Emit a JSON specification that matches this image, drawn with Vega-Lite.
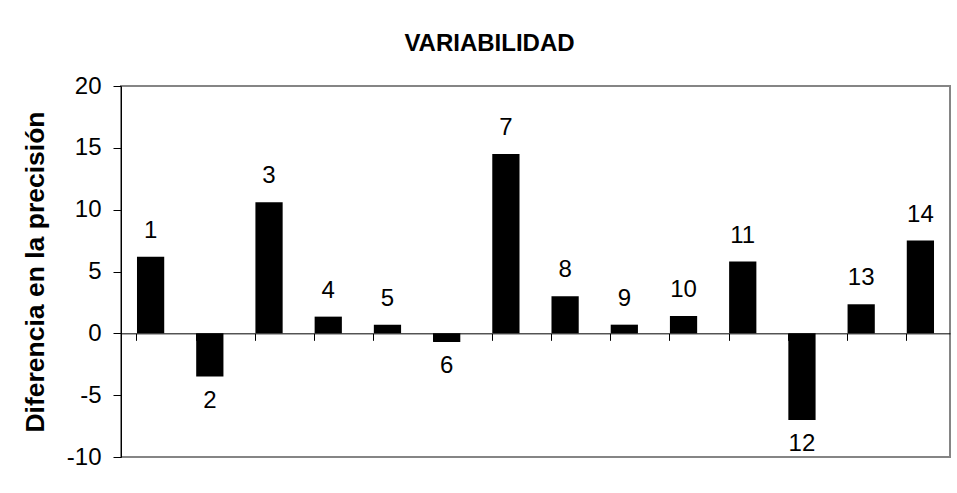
{
  "$schema": "https://vega.github.io/schema/vega-lite/v6.json",
  "width": 829,
  "height": 371,
  "autosize": {"type": "none"},
  "padding": {"left": 121, "top": 86, "right": 7, "bottom": 36},
  "background": "white",
  "config": {
    "view": {"stroke": "#858585", "strokeWidth": 2},
    "font": "Liberation Sans"
  },
  "title": {
    "text": "VARIABILIDAD",
    "font": "Liberation Sans",
    "fontWeight": "bold",
    "fontSize": 24,
    "color": "black",
    "anchor": "middle",
    "dx": -46,
    "offset": 18
  },
  "data": {
    "values": [
      {"n": 1, "v": 6.2},
      {"n": 2, "v": -3.5},
      {"n": 3, "v": 10.6},
      {"n": 4, "v": 1.35},
      {"n": 5, "v": 0.7},
      {"n": 6, "v": -0.7},
      {"n": 7, "v": 14.5},
      {"n": 8, "v": 3.0},
      {"n": 9, "v": 0.7},
      {"n": 10, "v": 1.4},
      {"n": 11, "v": 5.8},
      {"n": 12, "v": -7.0},
      {"n": 13, "v": 2.35},
      {"n": 14, "v": 7.5}
    ]
  },
  "encoding": {
    "x": {
      "field": "n",
      "type": "ordinal",
      "sort": null,
      "scale": {"paddingInner": 0.54, "paddingOuter": 0.27},
      "axis": {
        "orient": "bottom",
        "offset": -123.667,
        "labels": false,
        "title": null,
        "ticks": true,
        "tickSize": 7,
        "tickColor": "black",
        "domainColor": "black",
        "bandPosition": 0,
        "grid": false
      }
    },
    "y": {
      "field": "v",
      "type": "quantitative",
      "scale": {"domain": [-10, 20], "nice": false, "zero": false},
      "axis": {
        "values": [-10, -5, 0, 5, 10, 15, 20],
        "labelExpr": "'' + datum.value",
        "title": "Diferencia en la precisión",
        "titleFont": "Liberation Sans",
        "titleFontSize": 26.5,
        "titleFontWeight": "bold",
        "titleColor": "black",
        "titlePadding": 17,
        "labelFont": "Liberation Sans",
        "labelFontSize": 24,
        "labelColor": "black",
        "labelPadding": 12,
        "labelFlush": false,
        "labelOverlap": false,
        "tickSize": 8,
        "tickColor": "black",
        "domainColor": "black",
        "grid": false
      }
    }
  },
  "layer": [
    {
      "mark": {"type": "bar", "color": "black"},
      "encoding": {"y2": {"datum": 0}}
    },
    {
      "transform": [{"filter": "datum.v >= 0"}],
      "mark": {"type": "text", "font": "Liberation Sans", "fontSize": 24, "color": "black", "baseline": "alphabetic", "dy": -19},
      "encoding": {"text": {"field": "n"}}
    },
    {
      "transform": [{"filter": "datum.v < 0"}],
      "mark": {"type": "text", "font": "Liberation Sans", "fontSize": 24, "color": "black", "baseline": "alphabetic", "dy": 31.5},
      "encoding": {"text": {"field": "n"}}
    }
  ]
}
